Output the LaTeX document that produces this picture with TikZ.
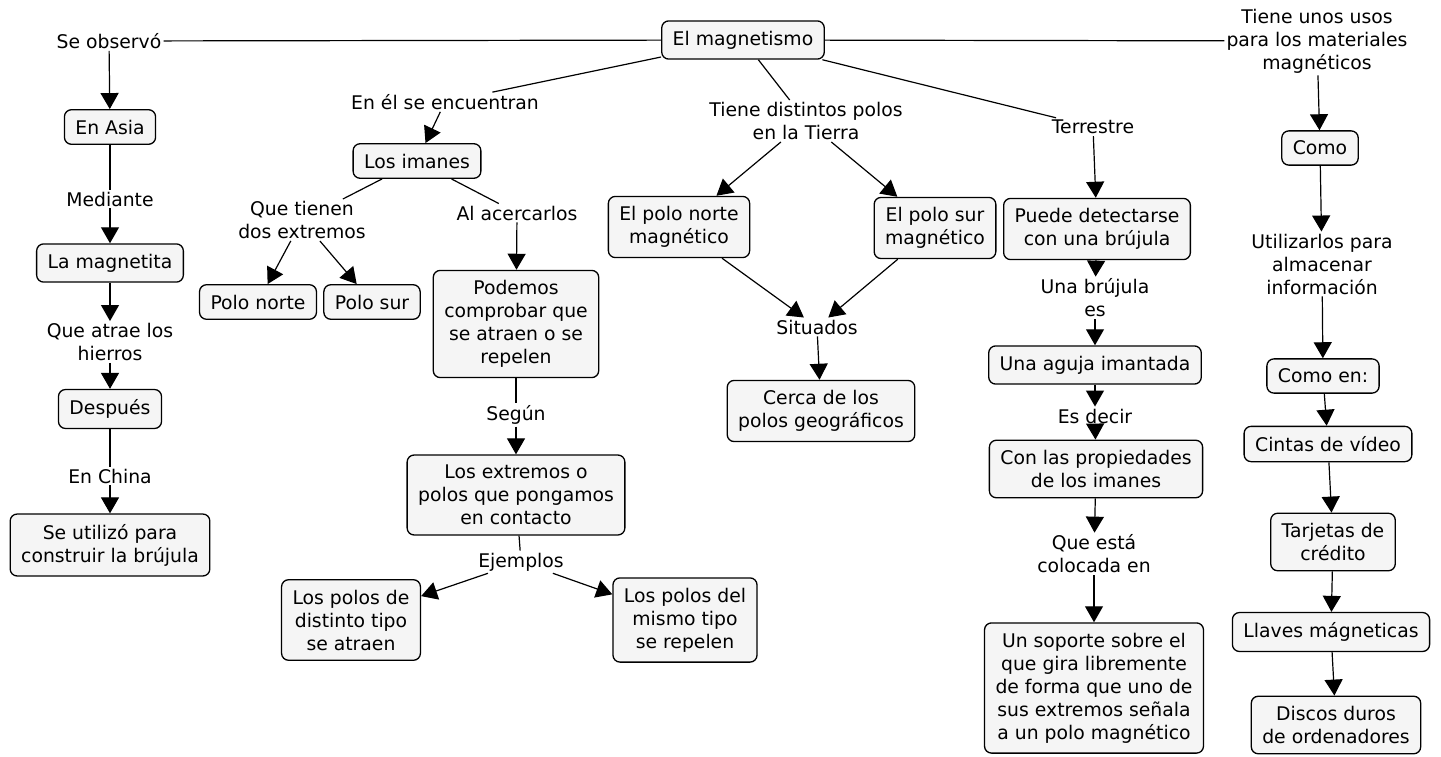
\documentclass[tikz,border=0pt]{standalone}
\usepackage{fontspec}
\setmainfont{DejaVu Sans}
\usetikzlibrary{positioning}
\usetikzlibrary{arrows.meta}

\tikzset{
  concepto/.style={draw, rounded corners=7pt, line width=1.3pt, fill=black!4, align=center, inner xsep=11pt, inner ysep=10pt},
  enlace/.style={align=center, inner sep=2pt},
  flecha/.style={-{Triangle[width=18pt,length=16pt]}, line width=1.2pt},
  linea/.style={line width=1.2pt}
}

\begin{document}
\begin{tikzpicture}[x=1pt,y=-1pt,font=\fontsize{18.8}{23}\selectfont]
\useasboundingbox (0,0) rectangle (1441,757);

% conceptos
\node[concepto](mag) at (743,40){El magnetismo};
\node[concepto](asia) at (110,127){En Asia};
\node[concepto](magnetita) at (110,263){La magnetita};
\node[concepto](despues) at (110,409){Después};
\node[concepto](utilizo) at (110,545){Se utilizó para\\construir la brújula};
\node[concepto](imanes) at (417,161){Los imanes};
\node[concepto](norte) at (258,302){Polo norte};
\node[concepto](sur) at (372,302){Polo sur};
\node[concepto](podemos) at (516,324){Podemos\\comprobar que\\se atraen o se\\repelen};
\node[concepto](extremos) at (516,495){Los extremos o\\polos que pongamos\\en contacto};
\node[concepto](atraen) at (351,620){Los polos de\\distinto tipo\\se atraen};
\node[concepto](repelen) at (685,620){Los polos del\\mismo tipo\\se repelen};
\node[concepto](pnorte) at (679,227){El polo norte\\magnético};
\node[concepto](psur) at (935,228){El polo sur\\magnético};
\node[concepto](cerca) at (821,411){Cerca de los\\polos geográficos};
\node[concepto](puede) at (1097,229){Puede detectarse\\con una brújula};
\node[concepto](aguja) at (1095,365){Una aguja imantada};
\node[concepto](propiedades) at (1096,469){Con las propiedades\\de los imanes};
\node[concepto](soporte) at (1094,688){Un soporte sobre el\\que gira libremente\\de forma que uno de\\sus extremos señala\\a un polo magnético};
\node[concepto](como) at (1320,148){Como};
\node[concepto](comoen) at (1323,376){Como en:};
\node[concepto](cintas) at (1328,444){Cintas de vídeo};
\node[concepto](tarjetas) at (1333,542){Tarjetas de\\crédito};
\node[concepto](llaves) at (1331,632){Llaves mágneticas};
\node[concepto](discos) at (1336,725){Discos duros\\de ordenadores};

% enlaces
\node[enlace](observo) at (109,41){Se observó};
\node[enlace](mediante) at (110,199){Mediante};
\node[enlace](atrae) at (110,342){Que atrae los\\hierros};
\node[enlace](china) at (110,476){En China};
\node[enlace](encuentran) at (445,102){En él se encuentran};
\node[enlace](dosext) at (302,220){Que tienen\\dos extremos};
\node[enlace](acercarlos) at (517,213){Al acercarlos};
\node[enlace](segun) at (516,415){Según};
\node[enlace](ejemplos) at (521,562){Ejemplos};
\node[enlace](polos) at (806,121){Tiene distintos polos\\en la Tierra};
\node[enlace](situados) at (817,327){Situados};
\node[enlace](terrestre) at (1093,127){Terrestre};
\node[enlace](brujula) at (1095,298){Una brújula\\es};
\node[enlace](decir) at (1095,416){Es decir};
\node[enlace](colocada) at (1094,554){Que está\\colocada en};
\node[enlace](usos) at (1317,41){Tiene unos usos\\para los materiales\\magnéticos};
\node[enlace](utilizarlos) at (1322,264){Utilizarlos para\\almacenar\\información};

\draw[linea] (mag) -- (observo);
\draw[flecha] (observo) -- (asia);
\draw[linea] (asia) -- (mediante);
\draw[flecha] (mediante) -- (magnetita);
\draw[flecha] (magnetita) -- (atrae);
\draw[flecha] (atrae) -- (despues);
\draw[linea] (despues) -- (china);
\draw[flecha] (china) -- (utilizo);

\draw[linea] (mag) -- (encuentran);
\draw[flecha] (encuentran) -- (imanes);
\draw[linea] (imanes) -- (dosext);
\draw[flecha] (dosext) -- (norte);
\draw[flecha] (dosext) -- (sur);
\draw[linea] (imanes) -- (acercarlos);
\draw[flecha] (acercarlos) -- (podemos);
\draw[linea] (podemos) -- (segun);
\draw[flecha] (segun) -- (extremos);
\draw[linea] (extremos) -- (ejemplos);
\draw[flecha] (ejemplos) -- (atraen);
\draw[flecha] (ejemplos) -- (repelen);

\draw[linea] (mag) -- (polos);
\draw[flecha] (polos) -- (pnorte);
\draw[flecha] (polos) -- (psur);
\draw[flecha] (pnorte) -- (situados);
\draw[flecha] (psur) -- (situados);
\draw[flecha] (situados) -- (cerca);

\draw[linea] (mag) -- (terrestre);
\draw[flecha] (terrestre) -- (puede);
\draw[flecha] (puede) -- (brujula);
\draw[flecha] (brujula) -- (aguja);
\draw[flecha] (aguja) -- (decir);
\draw[flecha] (decir) -- (propiedades);
\draw[flecha] (propiedades) -- (colocada);
\draw[flecha] (colocada) -- (soporte);

\draw[linea] (mag) -- (usos);
\draw[flecha] (usos) -- (como);
\draw[flecha] (como) -- (utilizarlos);
\draw[flecha] (utilizarlos) -- (comoen);
\draw[flecha] (comoen) -- (cintas);
\draw[flecha] (cintas) -- (tarjetas);
\draw[flecha] (tarjetas) -- (llaves);
\draw[flecha] (llaves) -- (discos);
\end{tikzpicture}
\end{document}
